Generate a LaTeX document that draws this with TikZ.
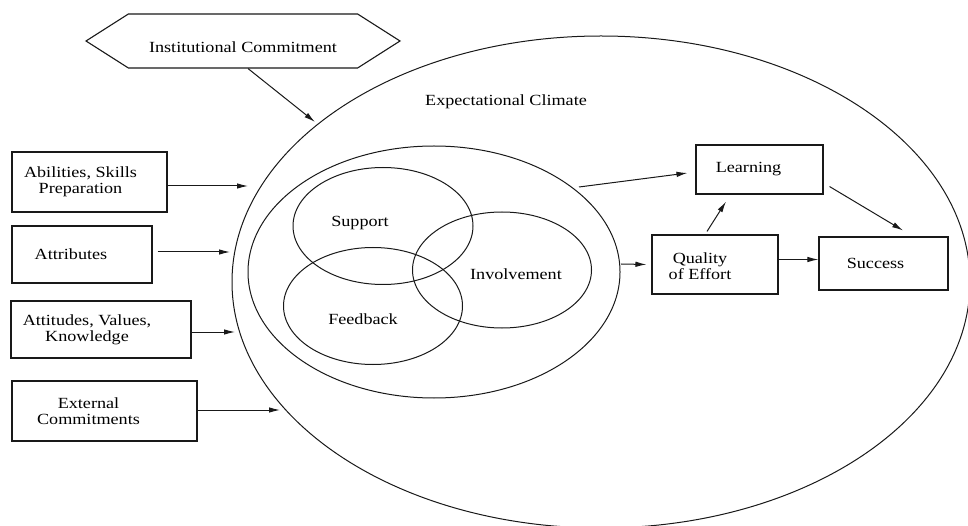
\documentclass[tikz,border=0pt]{standalone}
\usepackage{fontspec}
\setmainfont{Liberation Serif}[FakeStretch = 1.17]
\usetikzlibrary{arrows.meta, shapes.geometric, shapes.symbols}

\tikzset{
  box/.style = {draw = black!90, line width = 1.1pt, inner sep = 0pt},
  oval/.style = {ellipse, draw = black!90, line width = 1pt, inner sep = 0pt},
  txt/.style = {text = black, align = center, inner sep = 0pt,
    font = \fontsize{15.5}{16}\selectfont},
  arr/.style = {draw = black!90, line width = 1pt,
    -{Latex[length = 11pt, width = 5.5pt]}}
}

\begin{document}
\begin{tikzpicture}[x = 1pt, y = -1pt]
    \useasboundingbox (0, 0) rectangle (968, 526);

    \node[oval, minimum width = 738pt, minimum height = 492pt] (climate) at (601, 282) {};
    \node[oval, minimum width = 372pt, minimum height = 252pt] (context) at (434, 272) {};
    \node[oval, minimum width = 180pt, minimum height = 117pt] (support) at (383, 226) {};
    \node[oval, minimum width = 179pt, minimum height = 117pt] (feedback) at (373, 306) {};
    \node[oval, minimum width = 179pt, minimum height = 116pt] (involvement) at (502, 270) {};

    \node[txt] (climateLbl) at (506, 102) {Expectational Climate};
    \node[txt] (supportLbl) at (360, 223) {Support};
    \node[txt] (feedbackLbl) at (363, 319) {Feedback};
    \node[txt] (involvementLbl) at (516, 274) {Involvement};

    \node[box, shape = signal, signal to = west and east, signal pointer angle = 65,
      minimum width = 314pt, minimum height = 54pt,
      label = {[txt, yshift = -6pt]center:Institutional Commitment}]
      (commit) at (243, 41) {};

    \node[box, minimum width = 155pt, minimum height = 60pt,
      label = {[txt, xshift = -9pt]center:Abilities, Skills\\Preparation}]
      (abilities) at (89.5, 182) {};
    \node[box, minimum width = 140pt, minimum height = 57pt,
      label = {[txt, xshift = -11pt]center:Attributes}]
      (attributes) at (82, 254.5) {};
    \node[box, minimum width = 180pt, minimum height = 57pt,
      label = {[txt, xshift = -14pt]center:Attitudes, Values,\\Knowledge}]
      (attitudes) at (101, 329.5) {};
    \node[box, minimum width = 185pt, minimum height = 60pt,
      label = {[txt, xshift = -16pt]center:External\\Commitments}]
      (external) at (104.5, 411) {};

    \node[box, minimum width = 127pt, minimum height = 49pt,
      label = {[txt, xshift = -11pt]center:Learning}]
      (learning) at (759.5, 169.5) {};
    \node[box, minimum width = 126pt, minimum height = 59pt,
      label = {[txt, xshift = -15pt, yshift = -2pt]center:Quality\\of Effort}]
      (quality) at (715, 264.5) {};
    \node[box, minimum width = 129pt, minimum height = 53pt,
      label = {[txt, xshift = -8pt]center:Success}]
      (success) at (883.5, 263.5) {};

    \coordinate (commitEnd) at (315, 122);
    \coordinate (abilitiesEnd) at (248, 186);
    \coordinate (attributesEnd) at (230, 252);
    \coordinate (attitudesEnd) at (235, 332);
    \coordinate (externalEnd) at (280, 410);
    \coordinate (contextOut) at (579, 187);
    \coordinate (contextRight) at (621, 264);

    \draw[arr] ([xshift = 5pt]commit.south) -- (commitEnd);
    \draw[arr] (abilities.east |- abilitiesEnd) -- (abilitiesEnd);
    \draw[arr, shorten <= 5pt] (attributes.east |- attributesEnd) -- (attributesEnd);
    \draw[arr] (attitudes.east |- attitudesEnd) -- (attitudesEnd);
    \draw[arr] (external.east |- externalEnd) -- (externalEnd);

    \draw[arr] (contextOut) -- ([xshift = -8pt, yshift = -3.5pt]learning.west);
    \draw[arr] (contextRight) -- ([xshift = -5pt]quality.west);
    \draw[arr] ([xshift = -8pt, yshift = 3pt]quality.north)
      -- ([xshift = -33.5pt, yshift = -7pt]learning.south);
    \draw[arr] ([xshift = 6pt, yshift = 8pt]learning.south east)
      -- ([xshift = 19.5pt, yshift = 6pt]success.north);
    \draw[arr] ([yshift = 5pt]quality.east) -- ([yshift = 4pt]success.west);
\end{tikzpicture}
\end{document}
